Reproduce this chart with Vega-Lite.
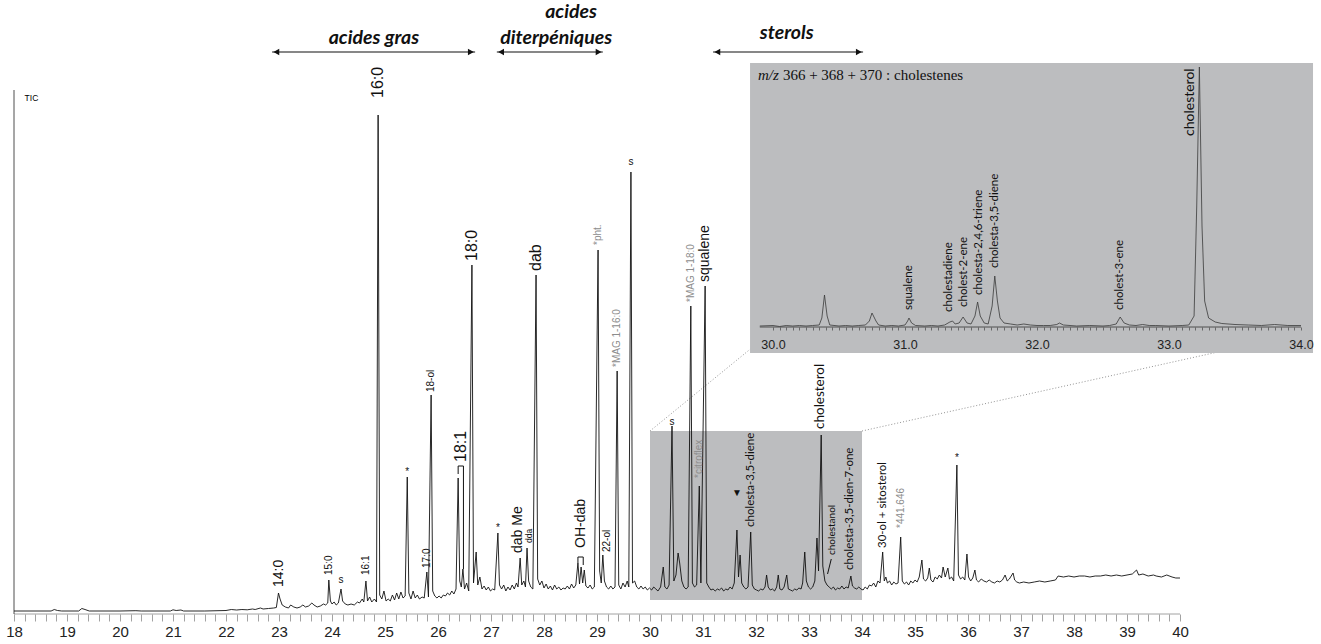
{
  "$schema": "https://vega.github.io/schema/vega-lite/v6.json",
  "width": 1301,
  "height": 554,
  "autosize": {"type": "none"},
  "padding": {"left": 14, "top": 60, "right": 6, "bottom": 30},
  "background": "white",
  "config": {"view": {"stroke": null}, "font": "Liberation Sans", "text": {"font": "Liberation Sans"}},
  "datasets": {
    "signal": [
      {"t":18.0,"v":0},{"t":18.7,"v":0},{"t":18.76,"v":1.5},{"t":18.82,"v":0.5},{"t":18.9,"v":0},{"t":19.22,"v":0},{"t":19.28,"v":2.5},{"t":19.34,"v":1.5},{"t":19.42,"v":0},{"t":20.0,"v":0},{"t":20.3,"v":0.3},{"t":20.4,"v":0},{"t":20.95,"v":0},{"t":21.0,"v":1.2},{"t":21.06,"v":0.5},{"t":21.15,"v":1},{"t":21.2,"v":0},{"t":21.6,"v":0},
      {"t":22.0,"v":0.5},{"t":22.1,"v":1.5},{"t":22.2,"v":1},{"t":22.3,"v":1.5},{"t":22.4,"v":1.2},{"t":22.5,"v":2},{"t":22.55,"v":1.5},{"t":22.65,"v":3},{"t":22.7,"v":2},{"t":22.8,"v":2.5},{"t":22.9,"v":3},{"t":22.95,"v":3.5},{"t":22.99,"v":18},{"t":23.02,"v":12},{"t":23.06,"v":6},{"t":23.12,"v":4},{"t":23.18,"v":3},{"t":23.22,"v":6},{"t":23.28,"v":4},{"t":23.34,"v":3},{"t":23.4,"v":4},{"t":23.45,"v":6},{"t":23.5,"v":4},{"t":23.56,"v":5},{"t":23.62,"v":8},{"t":23.66,"v":6},{"t":23.72,"v":4},{"t":23.78,"v":5},{"t":23.84,"v":7},{"t":23.88,"v":6},{"t":23.92,"v":8},{"t":23.94,"v":31},{"t":23.97,"v":10},
      {"t":24.0,"v":7},{"t":24.04,"v":9},{"t":24.08,"v":6},{"t":24.12,"v":8},{"t":24.17,"v":22},{"t":24.2,"v":10},{"t":24.25,"v":7},{"t":24.3,"v":6},{"t":24.36,"v":7},{"t":24.42,"v":6},{"t":24.48,"v":9},{"t":24.52,"v":8},{"t":24.57,"v":12},{"t":24.6,"v":9},{"t":24.64,"v":30},{"t":24.67,"v":10},{"t":24.71,"v":14},{"t":24.75,"v":9},{"t":24.8,"v":12},{"t":24.84,"v":9},{"t":24.87,"v":496},{"t":24.9,"v":16},{"t":24.94,"v":12},{"t":24.98,"v":20},
      {"t":25.02,"v":10},{"t":25.06,"v":12},{"t":25.1,"v":10},{"t":25.14,"v":16},{"t":25.18,"v":11},{"t":25.22,"v":18},{"t":25.26,"v":12},{"t":25.3,"v":19},{"t":25.34,"v":13},{"t":25.38,"v":15},{"t":25.42,"v":134},{"t":25.45,"v":18},{"t":25.49,"v":12},{"t":25.53,"v":20},{"t":25.57,"v":13},{"t":25.61,"v":16},{"t":25.65,"v":12},{"t":25.7,"v":14},{"t":25.74,"v":13},{"t":25.79,"v":39},{"t":25.82,"v":14},{"t":25.87,"v":216},{"t":25.9,"v":20},{"t":25.94,"v":15},{"t":25.98,"v":13},
      {"t":26.02,"v":15},{"t":26.06,"v":13},{"t":26.1,"v":16},{"t":26.14,"v":15},{"t":26.18,"v":18},{"t":26.22,"v":16},{"t":26.26,"v":20},{"t":26.3,"v":17},{"t":26.34,"v":22},{"t":26.38,"v":133},{"t":26.41,"v":30},{"t":26.44,"v":24},{"t":26.47,"v":42},{"t":26.5,"v":22},{"t":26.54,"v":28},{"t":26.58,"v":20},{"t":26.64,"v":346},{"t":26.67,"v":28},{"t":26.72,"v":59},{"t":26.75,"v":26},{"t":26.79,"v":34},{"t":26.83,"v":22},{"t":26.87,"v":25},{"t":26.91,"v":21},{"t":26.95,"v":24},{"t":26.99,"v":20},
      {"t":27.03,"v":22},{"t":27.07,"v":21},{"t":27.13,"v":78},{"t":27.16,"v":26},{"t":27.2,"v":22},{"t":27.24,"v":26},{"t":27.28,"v":20},{"t":27.32,"v":24},{"t":27.36,"v":21},{"t":27.4,"v":26},{"t":27.44,"v":22},{"t":27.48,"v":28},{"t":27.51,"v":24},{"t":27.55,"v":53},{"t":27.58,"v":26},{"t":27.62,"v":30},{"t":27.65,"v":24},{"t":27.68,"v":63},{"t":27.71,"v":30},{"t":27.75,"v":24},{"t":27.79,"v":22},{"t":27.85,"v":336},{"t":27.88,"v":32},{"t":27.92,"v":26},{"t":27.96,"v":30},
      {"t":28.0,"v":23},{"t":28.04,"v":27},{"t":28.08,"v":22},{"t":28.12,"v":25},{"t":28.16,"v":21},{"t":28.2,"v":26},{"t":28.24,"v":22},{"t":28.28,"v":24},{"t":28.32,"v":21},{"t":28.36,"v":23},{"t":28.4,"v":22},{"t":28.44,"v":25},{"t":28.48,"v":22},{"t":28.52,"v":27},{"t":28.56,"v":23},{"t":28.6,"v":26},{"t":28.64,"v":48},{"t":28.67,"v":27},{"t":28.7,"v":44},{"t":28.73,"v":28},{"t":28.76,"v":41},{"t":28.79,"v":25},{"t":28.83,"v":23},{"t":28.87,"v":26},{"t":28.91,"v":22},{"t":28.95,"v":24},
      {"t":29.02,"v":361},{"t":29.05,"v":40},{"t":29.08,"v":28},{"t":29.11,"v":56},{"t":29.14,"v":30},{"t":29.18,"v":24},{"t":29.22,"v":22},{"t":29.26,"v":25},{"t":29.3,"v":22},{"t":29.34,"v":24},{"t":29.38,"v":240},{"t":29.41,"v":26},{"t":29.45,"v":22},{"t":29.49,"v":28},{"t":29.53,"v":24},{"t":29.57,"v":30},{"t":29.6,"v":24},{"t":29.64,"v":439},{"t":29.67,"v":28},{"t":29.71,"v":30},{"t":29.75,"v":24},{"t":29.79,"v":22},{"t":29.83,"v":25},{"t":29.87,"v":22},{"t":29.91,"v":24},{"t":29.95,"v":21},{"t":29.99,"v":23},
      {"t":30.03,"v":21},{"t":30.07,"v":24},{"t":30.11,"v":22},{"t":30.15,"v":20},{"t":30.2,"v":24},{"t":30.25,"v":44},{"t":30.28,"v":24},{"t":30.32,"v":22},{"t":30.36,"v":26},{"t":30.415,"v":185},{"t":30.45,"v":30},{"t":30.49,"v":36},{"t":30.53,"v":58},{"t":30.56,"v":48},{"t":30.6,"v":30},{"t":30.64,"v":24},{"t":30.68,"v":22},{"t":30.72,"v":24},{"t":30.77,"v":305},{"t":30.8,"v":28},{"t":30.84,"v":24},{"t":30.88,"v":26},{"t":30.93,"v":125},{"t":30.96,"v":28},
      {"t":31.04,"v":325},{"t":31.07,"v":28},{"t":31.11,"v":24},{"t":31.15,"v":21},{"t":31.19,"v":22},{"t":31.23,"v":20},{"t":31.27,"v":22},{"t":31.31,"v":21},{"t":31.35,"v":23},{"t":31.39,"v":20},{"t":31.43,"v":22},{"t":31.47,"v":21},{"t":31.51,"v":24},{"t":31.55,"v":22},{"t":31.59,"v":28},{"t":31.64,"v":81},{"t":31.67,"v":34},{"t":31.7,"v":56},{"t":31.73,"v":28},{"t":31.77,"v":24},{"t":31.81,"v":22},{"t":31.85,"v":24},{"t":31.9,"v":79},{"t":31.93,"v":26},{"t":31.97,"v":22},
      {"t":32.01,"v":21},{"t":32.05,"v":20},{"t":32.09,"v":22},{"t":32.13,"v":21},{"t":32.17,"v":24},{"t":32.2,"v":36},{"t":32.23,"v":24},{"t":32.27,"v":21},{"t":32.31,"v":22},{"t":32.35,"v":20},{"t":32.39,"v":24},{"t":32.42,"v":36},{"t":32.45,"v":22},{"t":32.49,"v":21},{"t":32.53,"v":24},{"t":32.58,"v":36},{"t":32.61,"v":22},{"t":32.65,"v":21},{"t":32.69,"v":20},{"t":32.73,"v":22},{"t":32.77,"v":21},{"t":32.81,"v":23},{"t":32.85,"v":22},{"t":32.88,"v":28},{"t":32.92,"v":59},{"t":32.95,"v":30},{"t":32.99,"v":24},
      {"t":33.03,"v":22},{"t":33.07,"v":24},{"t":33.11,"v":30},{"t":33.15,"v":73},{"t":33.18,"v":40},{"t":33.23,"v":176},{"t":33.26,"v":45},{"t":33.3,"v":30},{"t":33.34,"v":26},{"t":33.38,"v":24},{"t":33.42,"v":22},{"t":33.46,"v":24},{"t":33.5,"v":21},{"t":33.54,"v":23},{"t":33.58,"v":22},{"t":33.62,"v":25},{"t":33.66,"v":22},{"t":33.7,"v":24},{"t":33.74,"v":23},{"t":33.79,"v":35},{"t":33.82,"v":25},{"t":33.86,"v":23},{"t":33.9,"v":22},{"t":33.94,"v":24},{"t":33.98,"v":22},
      {"t":34.02,"v":21},{"t":34.06,"v":24},{"t":34.1,"v":22},{"t":34.14,"v":26},{"t":34.18,"v":25},{"t":34.22,"v":28},{"t":34.26,"v":24},{"t":34.3,"v":30},{"t":34.34,"v":28},{"t":34.39,"v":59},{"t":34.42,"v":30},{"t":34.45,"v":34},{"t":34.48,"v":28},{"t":34.52,"v":30},{"t":34.56,"v":26},{"t":34.6,"v":29},{"t":34.64,"v":27},{"t":34.68,"v":28},{"t":34.73,"v":74},{"t":34.76,"v":30},{"t":34.8,"v":27},{"t":34.84,"v":29},{"t":34.88,"v":26},{"t":34.92,"v":30},{"t":34.96,"v":28},
      {"t":35.0,"v":31},{"t":35.04,"v":29},{"t":35.08,"v":34},{"t":35.13,"v":51},{"t":35.16,"v":32},{"t":35.2,"v":30},{"t":35.24,"v":33},{"t":35.27,"v":43},{"t":35.3,"v":31},{"t":35.34,"v":29},{"t":35.38,"v":34},{"t":35.42,"v":32},{"t":35.46,"v":36},{"t":35.5,"v":33},{"t":35.53,"v":44},{"t":35.57,"v":34},{"t":35.62,"v":43},{"t":35.65,"v":32},{"t":35.69,"v":34},{"t":35.73,"v":30},{"t":35.79,"v":146},{"t":35.82,"v":36},{"t":35.86,"v":32},{"t":35.9,"v":34},{"t":35.94,"v":31},{"t":35.98,"v":57},
      {"t":36.01,"v":34},{"t":36.05,"v":30},{"t":36.09,"v":33},{"t":36.13,"v":41},{"t":36.16,"v":31},{"t":36.2,"v":29},{"t":36.25,"v":32},{"t":36.3,"v":30},{"t":36.35,"v":29},{"t":36.4,"v":31},{"t":36.45,"v":29},{"t":36.5,"v":28},{"t":36.55,"v":30},{"t":36.6,"v":29},{"t":36.65,"v":31},{"t":36.7,"v":36},{"t":36.74,"v":30},{"t":36.78,"v":32},{"t":36.85,"v":38},{"t":36.88,"v":31},{"t":36.92,"v":29},{"t":36.97,"v":28},
      {"t":37.05,"v":29},{"t":37.15,"v":28},{"t":37.25,"v":29},{"t":37.35,"v":30},{"t":37.45,"v":29},{"t":37.55,"v":30},{"t":37.65,"v":31},{"t":37.7,"v":35},{"t":37.8,"v":34},{"t":37.9,"v":35},{"t":38.0,"v":34},{"t":38.1,"v":35},{"t":38.2,"v":35},{"t":38.3,"v":34},{"t":38.4,"v":35},{"t":38.5,"v":35},{"t":38.6,"v":36},{"t":38.7,"v":35},{"t":38.8,"v":36},{"t":38.9,"v":35},{"t":39.0,"v":36},{"t":39.1,"v":37},{"t":39.18,"v":41},{"t":39.22,"v":36},{"t":39.3,"v":37},{"t":39.4,"v":35},{"t":39.5,"v":36},{"t":39.55,"v":35},{"t":39.65,"v":34},{"t":39.75,"v":36},{"t":39.85,"v":34},{"t":39.92,"v":33},{"t":40.0,"v":33}
    ],
    "labels": [
      {"t":24.87,"v":513,"text":"16:0","kind":"big"},
      {"t":26.43,"v":149,"text":"18:1","kind":"big"},
      {"t":26.64,"v":350,"text":"18:0","kind":"big"},
      {"t":27.85,"v":340,"text":"dab","kind":"big"},
      {"t":23.0,"v":24,"text":"14:0","kind":"med"},
      {"t":27.5,"v":58,"text":"dab Me","kind":"med"},
      {"t":28.69,"v":63,"text":"OH-dab","kind":"med"},
      {"t":31.04,"v":329,"text":"squalene","kind":"med"},
      {"t":23.94,"v":36,"text":"15:0","kind":"small"},
      {"t":24.64,"v":36,"text":"16:1","kind":"small"},
      {"t":25.79,"v":43,"text":"17:0","kind":"small"},
      {"t":25.87,"v":219,"text":"18-ol","kind":"small"},
      {"t":29.19,"v":59,"text":"22-ol","kind":"small"},
      {"t":27.72,"v":68,"text":"dda","kind":"tiny"},
      {"t":24.17,"v":31,"text":"s","kind":"mark"},
      {"t":25.42,"v":139,"text":"*","kind":"mark"},
      {"t":27.13,"v":83,"text":"*","kind":"mark"},
      {"t":29.64,"v":449,"text":"s","kind":"mark"},
      {"t":30.415,"v":189,"text":"s","kind":"mark"},
      {"t":31.64,"v":118,"text":"▼","kind":"mark"},
      {"t":35.79,"v":153,"text":"*","kind":"mark"},
      {"t":29.02,"v":366,"text":"*pht.","kind":"grey"},
      {"t":29.38,"v":244,"text":"*MAG 1-16:0","kind":"grey"},
      {"t":30.77,"v":309,"text":"*MAG 1-18:0","kind":"grey"},
      {"t":30.93,"v":133,"text":"*citroflex","kind":"grey"},
      {"t":34.74,"v":83,"text":"*441.646","kind":"grey"},
      {"t":31.9,"v":84,"text":"cholesta-3,5-diene","kind":"sterol"},
      {"t":33.21,"v":182,"text":"cholesterol","kind":"sterolbig"},
      {"t":33.77,"v":41,"text":"cholesta-3,5-dien-7-one","kind":"sterol"},
      {"t":34.39,"v":63,"text":"30-ol + sitosterol","kind":"sterol"},
      {"t":33.43,"v":56,"text":"cholestanol","kind":"sterolsmall"}
    ],
    "brackets": [
      {"id":"a","o":1,"t":26.38,"v":137},{"id":"a","o":2,"t":26.38,"v":145},{"id":"a","o":3,"t":26.48,"v":145},{"id":"a","o":4,"t":26.48,"v":42},
      {"id":"b","o":1,"t":28.64,"v":48},{"id":"b","o":2,"t":28.64,"v":54},{"id":"b","o":3,"t":28.74,"v":54},{"id":"b","o":4,"t":28.74,"v":46},
      {"id":"c","o":1,"t":33.42,"v":52},{"id":"c","o":2,"t":33.35,"v":37}
    ],
    "arrows": [
      {"t":22.87,"t2":26.7,"v":559},
      {"t":27.11,"t2":29.11,"v":559},
      {"t":31.19,"t2":34.02,"v":559}
    ],
    "heads": [
      {"t":22.95,"v":559,"side":"start"},{"t":26.62,"v":559,"side":"end"},
      {"t":27.19,"v":559,"side":"start"},{"t":29.03,"v":559,"side":"end"},
      {"t":31.27,"v":559,"side":"start"},{"t":33.94,"v":559,"side":"end"}
    ],
    "headings": [
      {"t":24.79,"v":573,"text":"acides gras"},
      {"t":28.51,"v":599,"text":"acides"},
      {"t":28.23,"v":573,"text":"diterpéniques"},
      {"t":32.58,"v":578,"text":"sterols"}
    ],
    "inset": [
      {"t":29.9,"v":0},{"t":30.0,"v":0.5},{"t":30.05,"v":-0.5},{"t":30.1,"v":0.5},{"t":30.15,"v":0},{"t":30.2,"v":0.5},{"t":30.25,"v":0},{"t":30.3,"v":0.5},{"t":30.35,"v":1},{"t":30.37,"v":8},{"t":30.39,"v":31},{"t":30.41,"v":10},{"t":30.43,"v":1},{"t":30.5,"v":0},{"t":30.55,"v":0.5},{"t":30.6,"v":0},{"t":30.65,"v":0.5},{"t":30.7,"v":1},{"t":30.73,"v":5},{"t":30.75,"v":13},{"t":30.78,"v":5},{"t":30.8,"v":1},{"t":30.85,"v":0},{"t":30.9,"v":0.5},{"t":30.95,"v":0},
      {"t":31.0,"v":1},{"t":31.02,"v":5},{"t":31.03,"v":8},{"t":31.05,"v":3},{"t":31.08,"v":0.5},{"t":31.15,"v":0},{"t":31.2,"v":0.5},{"t":31.25,"v":0},{"t":31.3,"v":1},{"t":31.34,"v":4},{"t":31.36,"v":5},{"t":31.38,"v":2},{"t":31.41,"v":3},{"t":31.44,"v":9},{"t":31.47,"v":3},{"t":31.5,"v":2},{"t":31.53,"v":10},{"t":31.55,"v":24},{"t":31.57,"v":10},{"t":31.6,"v":3},{"t":31.63,"v":2},{"t":31.66,"v":20},{"t":31.68,"v":50},{"t":31.7,"v":25},{"t":31.72,"v":8},{"t":31.75,"v":3},{"t":31.8,"v":2},{"t":31.85,"v":1},{"t":31.9,"v":2},{"t":31.95,"v":1},
      {"t":32.0,"v":0.5},{"t":32.05,"v":0.5},{"t":32.1,"v":0.5},{"t":32.15,"v":1.5},{"t":32.17,"v":3},{"t":32.2,"v":1},{"t":32.25,"v":0.5},{"t":32.3,"v":0},{"t":32.4,"v":0.5},{"t":32.5,"v":0},{"t":32.55,"v":0.5},{"t":32.6,"v":2},{"t":32.63,"v":9},{"t":32.66,"v":3},{"t":32.7,"v":1},{"t":32.75,"v":0.5},{"t":32.8,"v":1.5},{"t":32.85,"v":0.5},{"t":32.9,"v":0.5},
      {"t":33.0,"v":0},{"t":33.1,"v":0.5},{"t":33.15,"v":1},{"t":33.19,"v":10},{"t":33.21,"v":120},{"t":33.23,"v":259},{"t":33.25,"v":100},{"t":33.27,"v":25},{"t":33.3,"v":8},{"t":33.35,"v":4},{"t":33.4,"v":2.5},{"t":33.5,"v":1.5},{"t":33.6,"v":1},{"t":33.7,"v":0.5},{"t":33.8,"v":1.5},{"t":33.9,"v":0.5},{"t":34.0,"v":0.5}
    ],
    "insetLabels": [
      {"t":31.03,"v":16,"text":"squalene","kind":"n"},
      {"t":31.33,"v":14,"text":"cholestadiene","kind":"n"},
      {"t":31.45,"v":19,"text":"cholest-2-ene","kind":"n"},
      {"t":31.56,"v":31,"text":"cholesta-2,4,6-triene","kind":"n"},
      {"t":31.68,"v":58,"text":"cholesta-3,5-diene","kind":"n"},
      {"t":32.63,"v":16,"text":"cholest-3-ene","kind":"n"},
      {"t":33.16,"v":190,"text":"cholesterol","kind":"b"}
    ]
  },
  "layer": [
    {
      "encoding": {
        "x": {"field": "t", "type": "quantitative", "title": null,
          "scale": {"domain": [18, 42.547], "nice": false, "zero": false},
          "axis": {"values": [18,18.2,18.4,18.6,18.8,19,19.2,19.4,19.6,19.8,20,20.2,20.4,20.6,20.8,21,21.2,21.4,21.6,21.8,22,22.2,22.4,22.6,22.8,23,23.2,23.4,23.6,23.8,24,24.2,24.4,24.6,24.8,25,25.2,25.4,25.6,25.8,26,26.2,26.4,26.6,26.8,27,27.2,27.4,27.6,27.8,28,28.2,28.4,28.6,28.8,29,29.2,29.4,29.6,29.8,30,30.2,30.4,30.6,30.8,31,31.2,31.4,31.6,31.8,32,32.2,32.4,32.6,32.8,33,33.2,33.4,33.6,33.8,34,34.2,34.4,34.6,34.8,35,35.2,35.4,35.6,35.8,36,36.2,36.4,36.6,36.8,37,37.2,37.4,37.6,37.8,38,38.2,38.4,38.6,38.8,39,39.2,39.4,39.6,39.8,40],
            "labelExpr": "abs(datum.value - round(datum.value)) < 0.01 ? format(datum.value, 'd') : ''",
            "domain": false, "grid": false, "tickSize": 7, "tickColor": "#8a8a8a", "tickWidth": 0.8,
            "labelFontSize": 15, "labelFont": "Liberation Sans", "labelColor": "#222", "labelPadding": 3,
            "labelFlush": false, "labelOverlap": false, "labelBound": false, "title": null}},
        "y": {"field": "v", "type": "quantitative", "title": null, "axis": null,
          "scale": {"domain": [-3, 551], "nice": false, "zero": false}}
      },
      "layer": [
        {"data": {"values": [{"t": 30, "t2": 34, "v": 11, "v2": 180}]},
         "mark": {"type": "rect", "color": "#bcbdbf"},
         "encoding": {"x2": {"field": "t2"}, "y2": {"field": "v2"}}},
        {"data": {"values": [{"t": 30, "t2": 32.264, "v": 180, "v2": 278}, {"t": 34, "t2": 42.075, "v": 180, "v2": 275}]},
         "mark": {"type": "rule", "color": "#777", "strokeWidth": 0.8, "strokeDash": [1, 2]},
         "encoding": {"x2": {"field": "t2"}, "y2": {"field": "v2"}}},
        {"data": {"values": [{"t": 18, "t2": 40, "v": -3}]},
         "mark": {"type": "rule", "color": "#8a8a8a", "strokeWidth": 0.8},
         "encoding": {"x2": {"field": "t2"}}},
        {"data": {"values": [{"t": 18, "v": -3, "v2": 521}]},
         "mark": {"type": "rule", "color": "#222", "strokeWidth": 0.8},
         "encoding": {"y2": {"field": "v2"}}},
        {"data": {"name": "signal"},
         "mark": {"type": "line", "color": "#111", "strokeWidth": 0.9},
         "encoding": {}},
        {"data": {"name": "brackets"},
         "mark": {"type": "line", "color": "#111", "strokeWidth": 1},
         "encoding": {"detail": {"field": "id"}, "order": {"field": "o"}}},
        {"data": {"values": [{"t": 18.2, "v": 513, "text": "TIC"}]},
         "mark": {"type": "text", "fontSize": 8.5, "align": "left", "baseline": "middle", "color": "#000"},
         "encoding": {"text": {"field": "text"}}},
        {"data": {"name": "labels"}, "transform": [{"filter": "datum.kind === 'big'"}],
         "mark": {"type": "text", "angle": 270, "align": "left", "baseline": "middle", "fontSize": 16, "color": "#111"},
         "encoding": {"text": {"field": "text"}}},
        {"data": {"name": "labels"}, "transform": [{"filter": "datum.kind === 'med'"}],
         "mark": {"type": "text", "angle": 270, "align": "left", "baseline": "middle", "fontSize": 14, "color": "#111"},
         "encoding": {"text": {"field": "text"}}},
        {"data": {"name": "labels"}, "transform": [{"filter": "datum.kind === 'small'"}],
         "mark": {"type": "text", "angle": 270, "align": "left", "baseline": "middle", "fontSize": 10, "color": "#111"},
         "encoding": {"text": {"field": "text"}}},
        {"data": {"name": "labels"}, "transform": [{"filter": "datum.kind === 'tiny'"}],
         "mark": {"type": "text", "angle": 270, "align": "left", "baseline": "middle", "fontSize": 8.5, "color": "#111"},
         "encoding": {"text": {"field": "text"}}},
        {"data": {"name": "labels"}, "transform": [{"filter": "datum.kind === 'grey'"}],
         "mark": {"type": "text", "angle": 270, "align": "left", "baseline": "middle", "fontSize": 10, "color": "#8c8c8c"},
         "encoding": {"text": {"field": "text"}}},
        {"data": {"name": "labels"}, "transform": [{"filter": "datum.kind === 'sterol'"}],
         "mark": {"type": "text", "angle": 270, "align": "left", "baseline": "middle", "fontSize": 11.5, "font": "Lato", "color": "#111"},
         "encoding": {"text": {"field": "text"}}},
        {"data": {"name": "labels"}, "transform": [{"filter": "datum.kind === 'sterolbig'"}],
         "mark": {"type": "text", "angle": 270, "align": "left", "baseline": "middle", "fontSize": 13.5, "font": "Lato", "color": "#111"},
         "encoding": {"text": {"field": "text"}}},
        {"data": {"name": "labels"}, "transform": [{"filter": "datum.kind === 'sterolsmall'"}],
         "mark": {"type": "text", "angle": 270, "align": "left", "baseline": "middle", "fontSize": 10, "font": "Lato", "color": "#111"},
         "encoding": {"text": {"field": "text"}}},
        {"data": {"name": "labels"}, "transform": [{"filter": "datum.kind === 'mark'"}],
         "mark": {"type": "text", "align": "center", "baseline": "middle", "fontSize": 10, "color": "#111"},
         "encoding": {"text": {"field": "text"}}},
        {"data": {"name": "arrows"},
         "mark": {"type": "rule", "color": "#111", "strokeWidth": 1.2},
         "encoding": {"x2": {"field": "t2"}}},
        {"data": {"name": "heads"},
         "mark": {"type": "point", "filled": true, "color": "#111", "size": 45, "opacity": 1},
         "encoding": {"shape": {"field": "side", "type": "nominal", "legend": null,
           "scale": {"domain": ["start", "end"], "range": ["triangle-left", "triangle-right"]}}}},
        {"data": {"name": "headings"},
         "mark": {"type": "text", "align": "center", "baseline": "middle", "fontSize": 19.5, "font": "Lato", "fontStyle": "italic", "fontWeight": "bold", "color": "#111"},
         "encoding": {"text": {"field": "text"}}}
      ]
    },
    {
      "encoding": {
        "x": {"field": "t", "type": "quantitative", "title": null,
          "scale": {"domain": [24.25, 34.106], "nice": false, "zero": false},
          "axis": {"orient": "bottom", "offset": -287, "zindex": 1,
            "values": [30,30.05,30.1,30.15,30.2,30.25,30.3,30.35,30.4,30.45,30.5,30.55,30.6,30.65,30.7,30.75,30.8,30.85,30.9,30.95,31,31.05,31.1,31.15,31.2,31.25,31.3,31.35,31.4,31.45,31.5,31.55,31.6,31.65,31.7,31.75,31.8,31.85,31.9,31.95,32,32.05,32.1,32.15,32.2,32.25,32.3,32.35,32.4,32.45,32.5,32.55,32.6,32.65,32.7,32.75,32.8,32.85,32.9,32.95,33,33.05,33.1,33.15,33.2,33.25,33.3,33.35,33.4,33.45,33.5,33.55,33.6,33.65,33.7,33.75,33.8,33.85,33.9,33.95,34],
            "labelExpr": "abs(datum.value - round(datum.value)) < 0.01 ? format(datum.value, '.1f') : ''",
            "domain": false, "grid": false, "tickSize": 3, "tickColor": "#444", "tickWidth": 0.7,
            "labelFontSize": 12.5, "labelFont": "Liberation Sans", "labelColor": "#222", "labelPadding": 8,
            "labelFlush": false, "labelOverlap": false, "labelBound": false, "title": null}},
        "y": {"field": "v", "type": "quantitative", "title": null, "axis": null,
          "scale": {"domain": [-288, 266], "nice": false, "zero": false}}
      },
      "layer": [
        {"data": {"values": [{"t": 29.826, "t2": 34.091, "v": -27, "v2": 263}]},
         "mark": {"type": "rect", "color": "#bcbdbf"},
         "encoding": {"x2": {"field": "t2"}, "y2": {"field": "v2"}}},
        {"data": {"values": [{"t": 29.9, "t2": 34.0, "v": -1}]},
         "mark": {"type": "rule", "color": "#333", "strokeWidth": 0.8},
         "encoding": {"x2": {"field": "t2"}}},
        {"data": {"name": "inset"},
         "mark": {"type": "line", "color": "#3a3a3a", "strokeWidth": 0.8},
         "encoding": {}},
        {"data": {"name": "insetLabels"}, "transform": [{"filter": "datum.kind === 'n'"}],
         "mark": {"type": "text", "angle": 270, "align": "left", "baseline": "middle", "fontSize": 11.5, "font": "Lato", "color": "#111"},
         "encoding": {"text": {"field": "text"}}},
        {"data": {"name": "insetLabels"}, "transform": [{"filter": "datum.kind === 'b'"}],
         "mark": {"type": "text", "angle": 270, "align": "left", "baseline": "middle", "fontSize": 14, "font": "Lato", "color": "#111"},
         "encoding": {"text": {"field": "text"}}},
        {"data": {"values": [{"t": 29.886, "v": 251, "text": "m/z"}]},
         "mark": {"type": "text", "align": "left", "baseline": "middle", "fontSize": 15, "font": "Liberation Serif", "fontStyle": "italic", "color": "#111"},
         "encoding": {"text": {"field": "text"}}},
        {"data": {"values": [{"t": 30.075, "v": 251, "text": "366 + 368 + 370 : cholestenes"}]},
         "mark": {"type": "text", "align": "left", "baseline": "middle", "fontSize": 15, "font": "Liberation Serif", "color": "#111"},
         "encoding": {"text": {"field": "text"}}}
      ]
    }
  ],
  "resolve": {"scale": {"x": "independent", "y": "independent"}, "axis": {"x": "independent", "y": "independent"}}
}
